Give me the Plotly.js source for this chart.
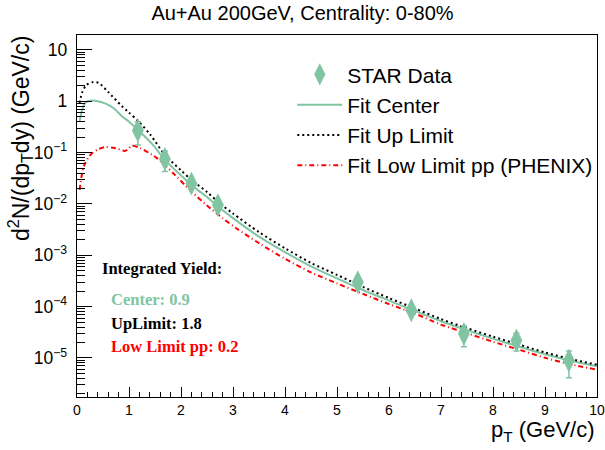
<!DOCTYPE html>
<html><head><meta charset="utf-8">
<script src="https://cdn.plot.ly/plotly-3.0.1.min.js"></script>
<style>html,body{margin:0;padding:0;background:#fff}</style>
</head><body><div id="chart" style="width:605px;height:450px"></div>
<script>
// STAR data points
const dataPt   = [1.17, 1.69, 2.2, 2.71, 5.4, 6.43, 7.44, 8.45, 9.46];
const dataY    = [0.27, 0.075, 0.025, 0.0095, 3.0e-4, 8.5e-5, 2.95e-5, 2.2e-5, 8.9e-6];
const dataErr  = [0.13, 0.032, 0.004, 0.0015, 4e-5, 1e-5, 1.3e-5, 0.83e-5, 4.8e-6];

// Fit center
const centerPt = [0.05, 0.1, 0.16, 0.22, 0.3, 0.4, 0.55, 0.7, 0.865, 1.0, 1.18, 1.44, 1.69, 2.0, 2.2, 2.5, 2.71, 3.0, 3.5, 4.0, 4.5, 5.0, 5.5, 6.0, 6.5, 7.0, 7.5, 8.0, 8.5, 9.0, 9.5, 10];
const centerY  = [0.406, 0.69, 0.93, 1.01, 1.03, 1.0, 0.90, 0.74, 0.51, 0.40, 0.273, 0.149, 0.0723, 0.036, 0.0234, 0.0136, 0.0089, 0.0053, 0.0023, 0.00115, 6.1e-4, 3.55e-4, 2.11e-4, 1.31e-4, 8.2e-5, 5.2e-5, 3.48e-5, 2.38e-5, 1.66e-5, 1.18e-5, 8.8e-6, 6.9e-6];

// Fit up limit
const upPt = [0.05, 0.1, 0.18, 0.3, 0.42, 0.6, 0.865, 1.0, 1.18, 1.41, 1.69, 2.0, 2.2, 2.5, 2.71, 3.0, 3.5, 4.0, 4.5, 5.0, 5.5, 6.0, 6.5, 7.0, 7.5, 8.0, 8.5, 9.0, 9.5, 10];
const upY  = [0.93, 1.48, 2.07, 2.35, 2.27, 1.51, 0.80, 0.60, 0.41, 0.223, 0.0906, 0.045, 0.0294, 0.0171, 0.0110, 0.0065, 0.00282, 0.00137, 7.1e-4, 4.15e-4, 2.42e-4, 1.47e-4, 9.2e-5, 5.7e-5, 3.81e-5, 2.6e-5, 1.82e-5, 1.28e-5, 9.5e-6, 7.4e-6];

// Fit low limit pp (PHENIX)
const lowPt = [0.05, 0.13, 0.26, 0.42, 0.54, 0.74, 0.93, 1.06, 1.22, 1.44, 1.53, 1.85, 2.17, 2.49, 2.81, 3.07, 3.5, 4.0, 4.5, 5.0, 5.5, 6.0, 6.5, 7.0, 7.5, 8.0, 8.5, 9.0, 9.5, 10];
const lowY  = [0.0187, 0.0535, 0.0906, 0.117, 0.128, 0.122, 0.108, 0.136, 0.122, 0.0906, 0.079, 0.0397, 0.0187, 0.0095, 0.00518, 0.00333, 0.00172, 8.55e-4, 4.65e-4, 2.83e-4, 1.77e-4, 1.12e-4, 7.3e-5, 4.47e-5, 3.04e-5, 2.07e-5, 1.45e-5, 1.01e-5, 7.5e-6, 5.9e-6];

const legendNames = ['STAR Data', 'Fit Center', 'Fit Up Limit', 'Fit Low Limit pp (PHENIX)'];
const yieldLabels = ['Integrated Yield:', 'Center: 0.9', 'UpLimit: 1.8', 'Low Limit pp: 0.2'];

const GREEN = '#80c4a2';
const SANS = 'Liberation Sans, Arial, sans-serif';
const SERIF = 'Liberation Serif, Times New Roman, serif';

const traces = [
  {x: centerPt, y: centerY, type: 'scatter', mode: 'lines', name: legendNames[1],
   line: {color: GREEN, width: 2, shape: 'spline', smoothing: 0.8}, legendrank: 2},
  {x: upPt, y: upY, type: 'scatter', mode: 'lines', name: legendNames[2],
   line: {color: '#000', width: 2, dash: '2px,3px', shape: 'spline', smoothing: 0.8}, legendrank: 3},
  {x: lowPt, y: lowY, type: 'scatter', mode: 'lines', name: legendNames[3],
   line: {color: '#ff0000', width: 2, dash: '5px,3px,1px,3px', shape: 'spline', smoothing: 0.8}, legendrank: 4},
  {x: dataPt, y: dataY, type: 'scatter', mode: 'markers', name: legendNames[0],
   marker: {symbol: 'diamond-tall', size: 17, color: GREEN},
   error_y: {type: 'data', array: dataErr, symmetric: true, color: GREEN, thickness: 1.5, width: 3},
   legendrank: 1}
];

const layout = {
  width: 605, height: 450,
  margin: {l: 77, r: 8, t: 35, b: 53, autoexpand: false},
  paper_bgcolor: '#fff', plot_bgcolor: '#fff',
  font: {family: SANS, color: '#000'},
  title: {text: 'Au+Au 200GeV, Centrality: 0-80%', font: {size: 20, family: SANS},
          x: 0.5, xref: 'container', y: 1 - 13/450, yref: 'container', yanchor: 'middle'},
  showlegend: true,
  legend: {x: 0.414, y: 0.947, xanchor: 'left', yanchor: 'top', font: {size: 21, family: SANS},
           bgcolor: 'rgba(0,0,0,0)', itemwidth: 45},
  xaxis: {range: [0, 10], showline: true, linecolor: '#000', linewidth: 1, mirror: true,
          ticks: 'inside', ticklen: 10, tickcolor: '#000', dtick: 1, tick0: 0,
          tickfont: {size: 14, family: SANS}, showgrid: false, zeroline: false,
          minor: {ticks: 'inside', ticklen: 5, dtick: 0.2, tickcolor: '#000', showgrid: false}},
  yaxis: {type: 'log', range: [-5.76, 1.29], showline: true, linecolor: '#000', linewidth: 1, mirror: true,
          ticks: 'inside', ticklen: 15, tickcolor: '#000', dtick: 1, exponentformat: 'power',
          tickfont: {size: 14, family: SANS}, showgrid: false, zeroline: false, ticklabelstandoff: 6,
          minor: {ticks: 'inside', ticklen: 8, dtick: 'D1', tickcolor: '#000', showgrid: false}},
  annotations: [
    {text: 'd<sup>2</sup>N/(dp<sub>T</sub>dy) (GeV/c)', xref: 'paper', yref: 'paper',
     x: (20 - 77) / 520, y: (397 - 139) / 362, xanchor: 'center', yanchor: 'middle',
     textangle: -90, showarrow: false, font: {size: 23, family: SANS}},
    {text: 'p<sub>T</sub> (GeV/c)', xref: 'paper', yref: 'paper',
     x: 1, y: -(431 - 397) / 362, xanchor: 'right', yanchor: 'middle',
     showarrow: false, font: {size: 22, family: SANS}},
    {text: '<b>' + yieldLabels[0] + '</b>', xref: 'paper', yref: 'paper', x: (100 - 77) / 520, y: (397 - 268) / 362,
     xanchor: 'left', yanchor: 'middle', showarrow: false, font: {size: 16.5, family: SERIF, color: '#000'}},
    {text: '<b>' + yieldLabels[1] + '</b>', xref: 'paper', yref: 'paper', x: (109 - 77) / 520, y: (397 - 299) / 362,
     xanchor: 'left', yanchor: 'middle', showarrow: false, font: {size: 16.5, family: SERIF, color: GREEN}},
    {text: '<b>' + yieldLabels[2] + '</b>', xref: 'paper', yref: 'paper', x: (109 - 77) / 520, y: (397 - 323) / 362,
     xanchor: 'left', yanchor: 'middle', showarrow: false, font: {size: 16.5, family: SERIF, color: '#000'}},
    {text: '<b>' + yieldLabels[3] + '</b>', xref: 'paper', yref: 'paper', x: (109 - 77) / 520, y: (397 - 346) / 362,
     xanchor: 'left', yanchor: 'middle', showarrow: false, font: {size: 16.5, family: SERIF, color: '#ff0000'}}
  ]
};

Plotly.newPlot('chart', traces, layout, {displayModeBar: false, staticPlot: true});
</script></body></html>
